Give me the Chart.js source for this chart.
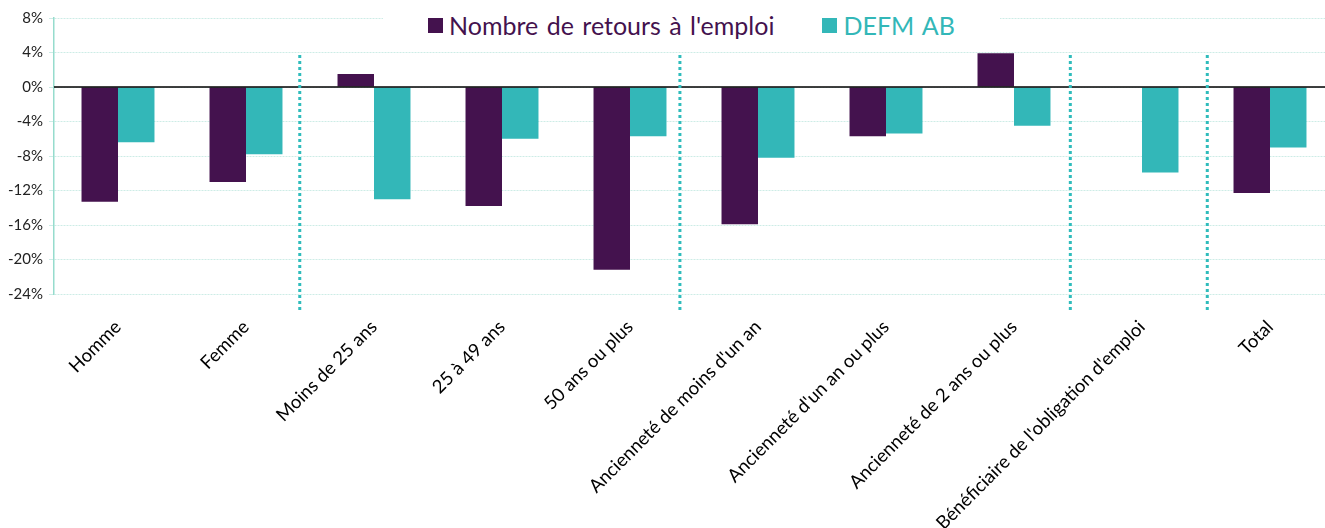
<!DOCTYPE html>
<html lang="fr">
<head>
<meta charset="utf-8">
<script src="https://cdn.jsdelivr.net/npm/chart.js@4.4.1/dist/chart.umd.min.js"></script>
<style>
  body { margin: 0; overflow: hidden; background: #fff; font-family: Lato, sans-serif; }
  #wrap { position: relative; width: 1340px; height: 528px; }
  #legend {
    position: absolute; left: 383px; top: 0; width: 617px; height: 50px;
    background: #fff; display: flex; align-items: center; justify-content: center;
  }
  .item { display: flex; align-items: center; font-size: 25px; word-spacing: 2px; }
  .item + .item { margin-left: 48px; }
  .box { width: 15px; height: 15px; margin-right: 6px; }
</style>
</head>
<body>
<div id="wrap">
  <canvas id="chart" width="1340" height="528"></canvas>
  <div id="legend"></div>
</div>
<script>
const categories = [
  'Homme', 'Femme', 'Moins de 25 ans', '25 à 49 ans', '50 ans ou plus',
  "Ancienneté de moins d'un an", "Ancienneté d'un an ou plus", 'Ancienneté de 2 ans ou plus',
  "Bénéficiaire de l'obligation d'emploi", 'Total'
];
const retours = [-13.3, -11.0, 1.5, -13.8, -21.2, -15.9, -5.7, 3.9, null, -12.3];
const defm = [-6.4, -7.8, -13.0, -6.0, -5.7, -8.2, -5.4, -4.5, -9.9, -7.0];
const seriesNames = ["Nombre de retours à l'emploi", 'DEFM AB'];
const yTicks = [8, 4, 0, -4, -8, -12, -16, -20, -24];

const purple = '#44124e';
const teal = '#33b7b8';

// séparateurs pointillés entre les groupes (positions en index de catégorie)
const separators = [1.42, 4.39, 7.44, 8.51];

const separatorPlugin = {
  id: 'separators',
  afterDatasetsDraw(chart) {
    const ctx = chart.ctx;
    const x = chart.scales.x;
    const y = chart.scales.y;
    const area = chart.chartArea;

    // ligne du zéro
    ctx.save();
    ctx.strokeStyle = '#000';
    ctx.lineWidth = 1.5;
    ctx.beginPath();
    ctx.moveTo(area.left, y.getPixelForValue(0));
    ctx.lineTo(area.right, y.getPixelForValue(0));
    ctx.stroke();

    ctx.strokeStyle = '#2fbcbc';
    ctx.lineWidth = 3;
    ctx.setLineDash([3, 3]);
    separators.forEach(s => {
      const px = x.getPixelForDecimal((s + 0.5) / categories.length);
      ctx.beginPath();
      ctx.moveTo(px, area.top + 37);
      ctx.lineTo(px, area.bottom + 19);
      ctx.stroke();
    });
    ctx.restore();
  }
};

const ctx = document.getElementById('chart').getContext('2d');
const chart = new Chart(ctx, {
  type: 'bar',
  data: {
    labels: categories,
    datasets: [
      { label: seriesNames[0], data: retours, backgroundColor: purple },
      { label: seriesNames[1], data: defm, backgroundColor: teal }
    ]
  },
  options: {
    responsive: false,
    animation: false,
    layout: { padding: { top: 18, right: 6, left: 0, bottom: 0 } },
    datasets: {
      bar: { categoryPercentage: 0.57, barPercentage: 1.0 }
    },
    plugins: {
      legend: { display: false },
      tooltip: { enabled: false }
    },
    scales: {
      x: {
        grid: { display: false },
        border: { display: false },
        ticks: {
          color: '#000',
          font: { family: 'Lato', size: 18.5 },
          minRotation: 45,
          maxRotation: 45,
          padding: 14,
          autoSkip: false
        },
        afterFit(scale) { scale.height = 234; }
      },
      y: {
        min: -24,
        max: 8,
        afterBuildTicks(scale) { scale.ticks = yTicks.map(v => ({ value: v })); },
        ticks: {
          color: '#222',
          font: { family: 'Lato', size: 15 },
          padding: 6,
          callback: v => v + '%'
        },
        grid: {
          color: '#cdece6',
          tickColor: '#cdece6',
          tickLength: 5,
          lineWidth: 1
        },
        border: { color: '#96dccd', width: 1.5, dash: [2, 1] },
        afterFit(scale) { scale.width = 54; }
      }
    }
  },
  plugins: [separatorPlugin]
});

// légende HTML posée sur le graphique, fond blanc
const legend = document.getElementById('legend');
chart.data.datasets.forEach(ds => {
  const item = document.createElement('div');
  item.className = 'item';
  item.style.color = ds.backgroundColor;
  const box = document.createElement('span');
  box.className = 'box';
  box.style.background = ds.backgroundColor;
  const label = document.createElement('span');
  label.textContent = ds.label;
  item.appendChild(box);
  item.appendChild(label);
  legend.appendChild(item);
});
</script>
</body>
</html>
